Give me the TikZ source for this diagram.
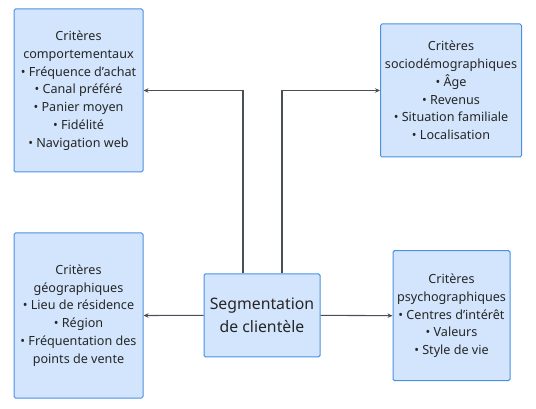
\documentclass[tikz,border=0pt]{standalone}
\usepackage{fontspec}
\setmainfont{Noto Sans}
\usetikzlibrary{arrows.meta}
\definecolor{boxfill}{HTML}{D2E5FC}
\definecolor{boxdraw}{HTML}{4A90E2}
\definecolor{linec}{HTML}{4A4F57}
\begin{document}
\begin{tikzpicture}[x=1pt,y=-1pt,
 box/.style={draw=boxdraw, fill=boxfill, line width=1pt, rounded corners=1.5pt, align=center, font=\fontsize{12.6}{17.8}\selectfont, inner sep=0pt, text=black!85},
 conn/.style={draw=linec, line width=1.1pt, -{Stealth[length=5pt,width=4.5pt]}}]
\useasboundingbox (0,0) rectangle (536,409);
\node[box, minimum width=129pt, minimum height=163pt] (comp) at (78.5,90.5) {Critères\\comportementaux\\• Fréquence d’achat\\• Canal préféré\\• Panier moyen\\• Fidélité\\• Navigation web};
\node[box, minimum width=141pt, minimum height=133pt] (socio) at (451,90.5) {Critères\\sociodémographiques\\• Âge\\• Revenus\\• Situation familiale\\• Localisation};
\node[box, minimum width=129pt, minimum height=165pt] (geo) at (78.5,315.5) {Critères\\géographiques\\• Lieu de résidence\\• Région\\• Fréquentation des\\points de vente};
\node[box, minimum width=117pt, minimum height=130pt] (psy) at (451.5,315.7) {Critères\\psychographiques\\• Centres d’intérêt\\• Valeurs\\• Style de vie};
\node[box, minimum width=116pt, minimum height=83pt, font=\fontsize{15.8}{23}\selectfont] (seg) at (262,315.3) {Segmentation\\de clientèle};
\draw[conn] ([xshift=-19pt]seg.north) |- (comp.east);
\draw[conn] ([xshift=20pt]seg.north) |- (socio.west);
\draw[conn] (seg.west) -- (geo.east);
\draw[conn] (seg.east) -- (psy.west);
\end{tikzpicture}
\end{document}
